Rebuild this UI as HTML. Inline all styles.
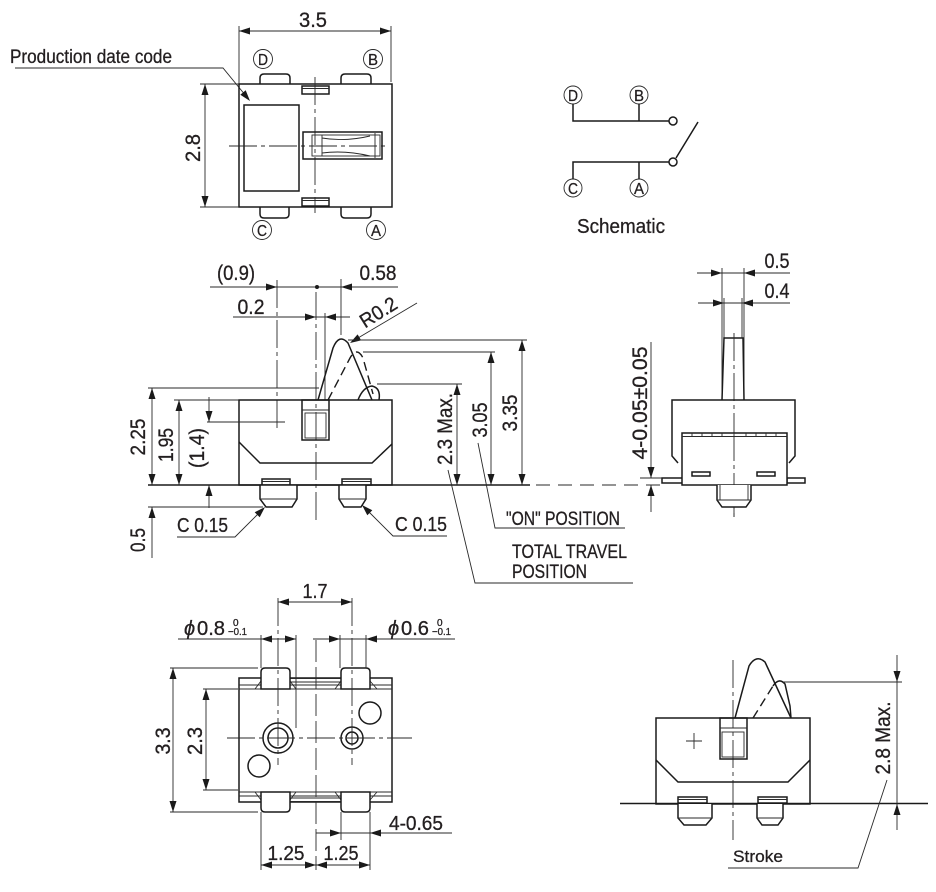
<!DOCTYPE html>
<html><head><meta charset="utf-8"><title>Switch drawing</title>
<style>
html,body{margin:0;padding:0;background:#fff;}
svg{display:block;}
.o{fill:none;stroke:#1a1a1a;stroke-width:1.5}
.w{fill:#fff;stroke:#1a1a1a;stroke-width:1.5}
.d{fill:none;stroke:#2a2a2a;stroke-width:0.9}
.c{fill:none;stroke:#2a2a2a;stroke-width:0.9;stroke-dasharray:28 4 4 4}
.s{fill:none;stroke:#1a1a1a;stroke-width:1.4;stroke-dasharray:9 5}
.a{fill:#1a1a1a;stroke:none}
text{font-family:"Liberation Sans",Arial,sans-serif;fill:#231f20;stroke:#231f20;stroke-width:0.3}
</style></head>
<body>
<svg width="936" height="892" viewBox="0 0 936 892" xmlns="http://www.w3.org/2000/svg">
<rect x="0" y="0" width="936" height="892" fill="#fff"/>

<!-- ================= TOP VIEW ================= -->
<text x="313" y="27" font-size="21" text-anchor="middle" textLength="28" lengthAdjust="spacingAndGlyphs">3.5</text>
<path class="d" d="M239,26V84 M391,26V82 M239,31H391"/>
<polygon class="a" points="239,31 250,27.5 250,34.5"/>
<polygon class="a" points="391,31 380,27.5 380,34.5"/>

<text x="10" y="63" font-size="19" textLength="162" lengthAdjust="spacingAndGlyphs">Production date code</text>
<polyline class="d" points="15,68 223,68 246,96"/>
<polygon class="a" points="250,101 240.3,94.7 245.7,90.3"/>

<path class="w" d="M260,84V78Q260,74 264,74H286Q290,74 290,78V84"/>
<path class="w" d="M341,84V78Q341,74 345,74H367Q371,74 371,78V84"/>
<path class="w" d="M260,207V214Q260,218 264,218H285Q289,218 289,214V207"/>
<path class="w" d="M341,207V214Q341,218 345,218H367Q371,218 371,214V207"/>
<rect class="o" x="239" y="84" width="153" height="123"/>
<rect class="o" x="302" y="86" width="27" height="8"/>
<path class="d" d="M302,88.5H329"/>
<rect class="o" x="302" y="198" width="27" height="8"/>
<path class="d" d="M302,200.5H329"/>
<rect class="o" x="244" y="105" width="55" height="86"/>
<path class="c" d="M315,77V213 M229,146H385"/>
<rect class="o" x="303" y="132" width="79" height="27"/>
<rect class="d" x="312" y="135" width="68" height="21"/>
<path class="d" d="M322,135V156 M375,133V158 M322,138Q345,142 370,136 M322,153Q345,150 370,156"/>

<circle class="d" cx="263" cy="59" r="9.5"/>
<text x="263" y="65" font-size="16" text-anchor="middle" textLength="10" lengthAdjust="spacingAndGlyphs">D</text>
<circle class="d" cx="373" cy="59" r="9.5"/>
<text x="373" y="65" font-size="16" text-anchor="middle" textLength="10" lengthAdjust="spacingAndGlyphs">B</text>
<circle class="d" cx="262" cy="230" r="9.5"/>
<text x="262" y="236" font-size="16" text-anchor="middle" textLength="10" lengthAdjust="spacingAndGlyphs">C</text>
<circle class="d" cx="376" cy="230" r="9.5"/>
<text x="376" y="236" font-size="16" text-anchor="middle" textLength="10" lengthAdjust="spacingAndGlyphs">A</text>

<path class="d" d="M200,84H239 M200,207H239 M205,84V207"/>
<polygon class="a" points="205,84 201.5,95 208.5,95"/>
<polygon class="a" points="205,207 201.5,196 208.5,196"/>
<text transform="translate(200,148) rotate(-90)" font-size="21" text-anchor="middle" textLength="28" lengthAdjust="spacingAndGlyphs">2.8</text>

<!-- ================= SCHEMATIC ================= -->
<circle class="d" cx="573" cy="95" r="9"/>
<text x="573" y="101" font-size="16" text-anchor="middle" textLength="10" lengthAdjust="spacingAndGlyphs">D</text>
<circle class="d" cx="639" cy="95" r="9"/>
<text x="639" y="101" font-size="16" text-anchor="middle" textLength="10" lengthAdjust="spacingAndGlyphs">B</text>
<circle class="d" cx="573" cy="188" r="9"/>
<text x="573" y="194" font-size="16" text-anchor="middle" textLength="10" lengthAdjust="spacingAndGlyphs">C</text>
<circle class="d" cx="639" cy="188" r="9"/>
<text x="639" y="194" font-size="16" text-anchor="middle" textLength="10" lengthAdjust="spacingAndGlyphs">A</text>
<path class="o" d="M573,104V121H669 M639,104V121 M573,179V162H669 M639,179V162 M676,158L698,122"/>
<circle class="w" cx="673" cy="121" r="4"/>
<circle class="w" cx="673" cy="162" r="4"/>
<text x="621" y="233" font-size="20" text-anchor="middle" textLength="88" lengthAdjust="spacingAndGlyphs">Schematic</text>

<!-- ================= SIDE VIEW ================= -->
<text x="236" y="280" font-size="21" text-anchor="middle" textLength="38" lengthAdjust="spacingAndGlyphs">(0.9)</text>
<text x="378" y="280" font-size="21" text-anchor="middle" textLength="37" lengthAdjust="spacingAndGlyphs">0.58</text>
<path class="d" d="M210,287H398"/>
<polygon class="a" points="277,287 266,283.5 266,290.5"/>
<polygon class="a" points="341,287 352,283.5 352,290.5"/>
<circle cx="317" cy="287" r="2" fill="#1a1a1a"/>
<path class="d" d="M341,279V335"/>
<path class="c" d="M277,280V432"/>
<text x="251" y="314" font-size="21" text-anchor="middle" textLength="27" lengthAdjust="spacingAndGlyphs">0.2</text>
<path class="d" d="M233,317H350 M325,313V400"/>
<polygon class="a" points="316,317 305,313.5 305,320.5"/>
<polygon class="a" points="325,317 336,313.5 336,320.5"/>
<text transform="translate(382,318) rotate(-32)" font-size="20" text-anchor="middle" textLength="40" lengthAdjust="spacingAndGlyphs">R0.2</text>
<path class="d" d="M417,303L358,338"/>
<polygon class="a" points="350,343 357.6,334.4 361.2,340.4"/>

<path class="c" d="M316,292V524"/>

<path class="o" d="M318,400L333,348Q339,333 348,343L372,400"/>
<path class="s" d="M328,400L350,358Q357,346 363,358L373,394"/>
<path class="o" d="M358,400Q363,387 372,386Q381,388 379,400"/>

<rect class="o" x="239" y="400" width="153" height="85"/>
<polyline class="o" points="239,442 260,463 372,463 392,444"/>
<rect class="o" x="302" y="400" width="27" height="40"/>
<path class="d" d="M302,410H329"/>
<rect class="d" x="305" y="413" width="21" height="25"/>

<rect class="w" x="262" y="479" width="28" height="6"/>
<path class="d" d="M262,481.5H290"/>
<path class="w" d="M260,485V499L266,507H292L297,499V485"/>
<path class="d" d="M260,499H297"/>
<rect class="w" x="342" y="479" width="29" height="6"/>
<path class="d" d="M342,481.5H371"/>
<path class="w" d="M339,485V499L344,507H361L366,499V485"/>
<path class="d" d="M339,499H366"/>

<path class="o" d="M148,485H530"/>
<path class="d" stroke-dasharray="14 8" d="M536,485H662"/>

<path class="d" d="M148,388H319 M152,388V485 M174,400H239 M179,400V485 M209,397V422 M207,422H285 M209,485V508 M148,507H263 M152,507V558"/>
<polygon class="a" points="152,388 148.5,399 155.5,399"/>
<polygon class="a" points="152,485 148.5,474 155.5,474"/>
<polygon class="a" points="179,400 175.5,411 182.5,411"/>
<polygon class="a" points="179,485 175.5,474 182.5,474"/>
<polygon class="a" points="209,422 205.5,411 212.5,411"/>
<polygon class="a" points="209,485 205.5,496 212.5,496"/>
<polygon class="a" points="152,507 148.5,518 155.5,518"/>
<text transform="translate(145,437) rotate(-90)" font-size="21" text-anchor="middle" textLength="37" lengthAdjust="spacingAndGlyphs">2.25</text>
<text transform="translate(173,445) rotate(-90)" font-size="21" text-anchor="middle" textLength="34" lengthAdjust="spacingAndGlyphs">1.95</text>
<text transform="translate(204,448) rotate(-90)" font-size="21" text-anchor="middle" textLength="40" lengthAdjust="spacingAndGlyphs">(1.4)</text>
<text transform="translate(145,540) rotate(-90)" font-size="21" text-anchor="middle" textLength="24" lengthAdjust="spacingAndGlyphs">0.5</text>

<text x="177" y="532" font-size="20" textLength="51" lengthAdjust="spacingAndGlyphs">C 0.15</text>
<polyline class="d" points="177,537 235,537 258,514"/>
<polygon class="a" points="265,507 259.7,517.3 254.7,512.3"/>
<text x="395" y="531" font-size="20" textLength="52" lengthAdjust="spacingAndGlyphs">C 0.15</text>
<polyline class="d" points="447,536 393,536 369,512"/>
<polygon class="a" points="362,505 372.3,510.3 367.3,515.3"/>

<path class="d" d="M348,340H527 M522,340V485 M363,352H495 M491,352V485 M377,384H462 M457,384V485"/>
<polygon class="a" points="522,340 518.5,351 525.5,351"/>
<polygon class="a" points="522,485 518.5,474 525.5,474"/>
<polygon class="a" points="491,352 487.5,363 494.5,363"/>
<polygon class="a" points="491,485 487.5,474 494.5,474"/>
<polygon class="a" points="457,384 453.5,395 460.5,395"/>
<polygon class="a" points="457,485 453.5,474 460.5,474"/>
<text transform="translate(517,413) rotate(-90)" font-size="21" text-anchor="middle" textLength="37" lengthAdjust="spacingAndGlyphs">3.35</text>
<text transform="translate(487,420) rotate(-90)" font-size="21" text-anchor="middle" textLength="35" lengthAdjust="spacingAndGlyphs">3.05</text>
<text transform="translate(452,429) rotate(-90)" font-size="21" text-anchor="middle" textLength="72" lengthAdjust="spacingAndGlyphs">2.3 Max.</text>

<polyline class="d" points="478,443 495,528 625,528"/>
<text x="506" y="525" font-size="19" textLength="114" lengthAdjust="spacingAndGlyphs">&quot;ON&quot; POSITION</text>
<polyline class="d" points="448,470 475,583 633,583"/>
<text x="512" y="558" font-size="19" textLength="115" lengthAdjust="spacingAndGlyphs">TOTAL TRAVEL</text>
<text x="512" y="578" font-size="19" textLength="75" lengthAdjust="spacingAndGlyphs">POSITION</text>

<!-- ================= RIGHT VIEW ================= -->
<text x="777" y="268" font-size="21" text-anchor="middle" textLength="25" lengthAdjust="spacingAndGlyphs">0.5</text>
<text x="777" y="298" font-size="21" text-anchor="middle" textLength="25" lengthAdjust="spacingAndGlyphs">0.4</text>
<path class="d" d="M697,273H790 M698,303H790 M722,268V400 M744,268V400 M724,298V338 M742,298V338"/>
<polygon class="a" points="722,273 711,269.5 711,276.5"/>
<polygon class="a" points="744,273 755,269.5 755,276.5"/>
<polygon class="a" points="724,303 713,299.5 713,306.5"/>
<polygon class="a" points="742,303 753,299.5 753,306.5"/>
<path class="o" d="M722,400L724,338H743L744,400"/>
<path class="c" d="M734,333V517"/>
<path class="o" d="M678,463L672,456V400H795V456L789,463"/>
<rect class="w" x="662" y="478" width="21" height="5"/>
<rect class="w" x="787" y="478" width="18" height="5"/>
<rect class="w" x="682" y="433" width="105" height="52"/>
<path class="d" d="M682,436.5H787"/>
<path class="d" d="M692,433V436 M702,433V436 M712,433V436 M722,433V436 M746,433V436 M756,433V436 M766,433V436 M776,433V436"/>
<path class="c" d="M734,433V517"/>
<rect class="o" x="692" y="472" width="18" height="4"/>
<rect class="o" x="757" y="472" width="18" height="4"/>
<path class="w" d="M717,485V500L722,507H746L751,500V485"/>
<path class="d" d="M720,485V500 M748,485V500 M717,500H751"/>
<path class="d" d="M651,342V478 M651,485V512 M640,478H662"/>
<polygon class="a" points="651,478 647.5,467 654.5,467"/>
<polygon class="a" points="651,485 647.5,496 654.5,496"/>
<text transform="translate(647,403) rotate(-90)" font-size="21" text-anchor="middle" textLength="113" lengthAdjust="spacingAndGlyphs">4-0.05±0.05</text>

<!-- ================= BOTTOM VIEW ================= -->
<rect class="o" x="239" y="678" width="153" height="124"/>
<path class="d" d="M239,685H392 M239,689H392 M239,792H392 M239,796H392 M290,678.5H341 M290,682H341 M290,798H341 M290,801.5H341"/>
<path class="d" d="M255,689L261,681 M290,681L296,689 M335,689L341,681 M370,681L377,689 M255,792L261,800 M290,800L296,792 M335,792L341,800 M370,800L377,792"/>
<path class="w" d="M261,689V672Q261,668 265,668H286Q290,668 290,672V689Z"/>
<path class="w" d="M341,689V672Q341,668 345,668H366Q370,668 370,672V689Z"/>
<path class="w" d="M261,792V808Q261,812 265,812H286Q290,812 290,808V792Z"/>
<path class="w" d="M341,792V808Q341,812 345,812H366Q370,812 370,808V792Z"/>
<circle class="o" cx="278" cy="738" r="15"/>
<circle class="o" cx="278" cy="738" r="10"/>
<circle class="o" cx="352" cy="738" r="11"/>
<circle class="o" cx="352" cy="738" r="6"/>
<circle class="o" cx="370" cy="713" r="11"/>
<circle class="o" cx="259" cy="766" r="11"/>
<path class="c" d="M227,738H412"/>
<path class="d" stroke-dasharray="22 5" d="M316,640V870"/>
<path class="c" d="M278,598V765 M352,598V765"/>

<text x="315" y="598" font-size="20" text-anchor="middle" textLength="25" lengthAdjust="spacingAndGlyphs">1.7</text>
<path class="d" d="M278,602H352"/>
<polygon class="a" points="278,602 289,598.5 289,605.5"/>
<polygon class="a" points="352,602 341,598.5 341,605.5"/>

<path class="d" d="M178,639H296 M261,635V668 M296,635V728 M313,639H455 M340,635V668 M366,635V668"/>
<polygon class="a" points="261,639 272,635.5 272,642.5"/>
<polygon class="a" points="296,639 285,635.5 285,642.5"/>
<polygon class="a" points="340,639 329,635.5 329,642.5"/>
<polygon class="a" points="366,639 377,635.5 377,642.5"/>
<text x="184" y="635" font-size="20" font-style="italic" font-family="'DejaVu Serif',serif">ϕ</text>
<text x="197" y="635" font-size="20" textLength="28" lengthAdjust="spacingAndGlyphs">0.8</text>
<text x="233" y="626" font-size="10" stroke-width="0">0</text>
<text x="228" y="635" font-size="10" stroke-width="0" textLength="19" lengthAdjust="spacingAndGlyphs">−0.1</text>
<text x="388" y="635" font-size="20" font-style="italic" font-family="'DejaVu Serif',serif">ϕ</text>
<text x="401" y="635" font-size="20" textLength="28" lengthAdjust="spacingAndGlyphs">0.6</text>
<text x="437" y="626" font-size="10" stroke-width="0">0</text>
<text x="432" y="635" font-size="10" stroke-width="0" textLength="19" lengthAdjust="spacingAndGlyphs">−0.1</text>

<path class="d" d="M170,668H258 M170,812H258 M173,668V812 M203,689H238 M203,790H238 M206,689V790"/>
<polygon class="a" points="173,668 169.5,679 176.5,679"/>
<polygon class="a" points="173,812 169.5,801 176.5,801"/>
<polygon class="a" points="206,689 202.5,700 209.5,700"/>
<polygon class="a" points="206,790 202.5,779 209.5,779"/>
<text transform="translate(170,741) rotate(-90)" font-size="21" text-anchor="middle" textLength="27" lengthAdjust="spacingAndGlyphs">3.3</text>
<text transform="translate(202,741) rotate(-90)" font-size="21" text-anchor="middle" textLength="28" lengthAdjust="spacingAndGlyphs">2.3</text>

<path class="d" d="M261,812V870 M370,812V870 M341,812V840 M316,833H452 M261,865H370"/>
<polygon class="a" points="341,833 330,829.5 330,836.5"/>
<polygon class="a" points="370,833 381,829.5 381,836.5"/>
<text x="389" y="830" font-size="20" textLength="54" lengthAdjust="spacingAndGlyphs">4-0.65</text>
<polygon class="a" points="261,865 272,861.5 272,868.5"/>
<polygon class="a" points="316,865 305,861.5 305,868.5"/>
<polygon class="a" points="316,865 327,861.5 327,868.5"/>
<polygon class="a" points="370,865 359,861.5 359,868.5"/>
<text x="286" y="860" font-size="20" text-anchor="middle" textLength="37" lengthAdjust="spacingAndGlyphs">1.25</text>
<text x="341" y="860" font-size="20" text-anchor="middle" textLength="35" lengthAdjust="spacingAndGlyphs">1.25</text>

<!-- ================= BOTTOM-RIGHT VIEW ================= -->
<path class="c" d="M733,660V840"/>
<path class="o" d="M735,718L749,666Q756,654 765,662L791,718"/>
<path class="s" d="M753,718L773,686"/>
<path class="o" d="M773,686Q779,677 785,684L790,706L791,718"/>
<rect class="o" x="656" y="718" width="154" height="86"/>
<polyline class="o" points="656,760 678,782 788,782 810,760"/>
<rect class="o" x="720" y="718" width="27" height="41"/>
<path class="d" d="M720,728H747"/>
<rect class="d" x="722" y="732" width="22" height="25"/>
<path class="d" d="M686,741H702 M694,733V749"/>
<path class="o" d="M620,803.5H928"/>
<rect class="w" x="678" y="797" width="29" height="6"/>
<path class="d" d="M678,799.5H707"/>
<path class="w" d="M678,804V818L684,825H706L712,818V804"/>
<path class="d" d="M678,818H712"/>
<rect class="w" x="758" y="797" width="29" height="6"/>
<path class="d" d="M758,799.5H787"/>
<path class="w" d="M757,804V818L762,825H778L783,818V804"/>
<path class="d" d="M757,818H783"/>
<path class="d" d="M783,682H902 M897,655V830"/>
<polygon class="a" points="897,682 893.5,671 900.5,671"/>
<polygon class="a" points="897,804 893.5,815 900.5,815"/>
<text transform="translate(890,738) rotate(-90)" font-size="21" text-anchor="middle" textLength="73" lengthAdjust="spacingAndGlyphs">2.8 Max.</text>
<polyline class="d" points="887,780 858,868 728,868"/>
<text x="733" y="862" font-size="17" textLength="50" lengthAdjust="spacingAndGlyphs">Stroke</text>
</svg>
</body></html>
